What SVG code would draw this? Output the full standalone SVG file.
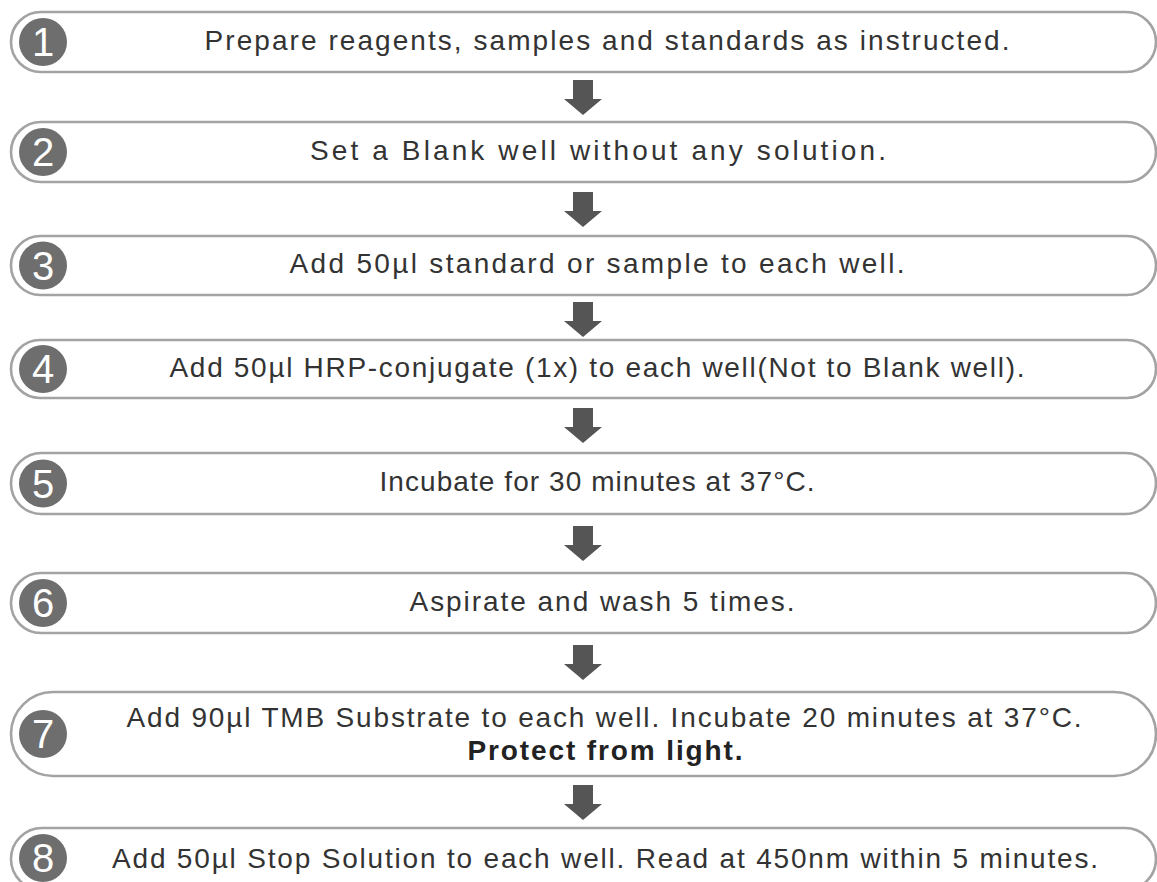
<svg xmlns="http://www.w3.org/2000/svg" width="1157" height="882" viewBox="0 0 1157 882">
<defs>
<style>
.box{fill:#ffffff;stroke:#a3a3a3;stroke-width:2.6}
.num{fill:#6e6e6e}
.digit{font-family:"Liberation Sans",Arial,sans-serif;font-size:40px;fill:#ffffff;text-anchor:middle}
.t{font-family:"Liberation Sans",Arial,sans-serif;font-size:28px;fill:#333333;text-anchor:middle}
.b{font-weight:bold;fill:#222222}
.arrow{fill:#555555}
</style>
<path id="arr" d="M-10,0 H10 V19 H19 L0,35 L-19,19 H-10 Z"/>
</defs>
<rect width="1157" height="882" fill="#ffffff"/>
<g id="connectors">
<use href="#arr" class="arrow" x="583" y="80"/>
<use href="#arr" class="arrow" x="583" y="192"/>
<use href="#arr" class="arrow" x="583" y="302"/>
<use href="#arr" class="arrow" x="583" y="408"/>
<use href="#arr" class="arrow" x="583" y="526"/>
<use href="#arr" class="arrow" x="583" y="645"/>
<use href="#arr" class="arrow" x="583" y="785"/>
</g>
<g id="step1">
<rect class="box" x="11" y="12" width="1145" height="60" rx="30"/>
<circle class="num" cx="43" cy="42" r="24"/>
<text class="digit" x="43" y="56">1</text>
<text class="t" x="607" y="50" textLength="805" lengthAdjust="spacing">Prepare reagents, samples and standards as instructed.</text>
</g>
<g id="step2">
<rect class="box" x="11" y="122" width="1145" height="60" rx="30"/>
<circle class="num" cx="43" cy="152" r="24"/>
<text class="digit" x="43" y="166">2</text>
<text class="t" x="598" y="160" textLength="576" lengthAdjust="spacing">Set a Blank well without any solution.</text>
</g>
<g id="step3">
<rect class="box" x="11" y="236" width="1145" height="59" rx="29.5"/>
<circle class="num" cx="43" cy="265.5" r="24"/>
<text class="digit" x="43" y="279.5">3</text>
<text class="t" x="597" y="273" textLength="615" lengthAdjust="spacing">Add 50µl standard or sample to each well.</text>
</g>
<g id="step4">
<rect class="box" x="11" y="340" width="1145" height="58" rx="29"/>
<circle class="num" cx="43" cy="369" r="24"/>
<text class="digit" x="43" y="383">4</text>
<text class="t" x="597" y="377" textLength="855" lengthAdjust="spacing">Add 50µl HRP-conjugate (1x) to each well(Not to Blank well).</text>
</g>
<g id="step5">
<rect class="box" x="11" y="453" width="1145" height="61" rx="30.5"/>
<circle class="num" cx="43" cy="483.5" r="24"/>
<text class="digit" x="43" y="497.5">5</text>
<text class="t" x="597" y="491" textLength="435" lengthAdjust="spacing">Incubate for 30 minutes at 37°C.</text>
</g>
<g id="step6">
<rect class="box" x="11" y="573" width="1145" height="60" rx="30"/>
<circle class="num" cx="43" cy="603" r="24"/>
<text class="digit" x="43" y="617">6</text>
<text class="t" x="602" y="611" textLength="385" lengthAdjust="spacing">Aspirate and wash 5 times.</text>
</g>
<g id="step7">
<rect class="box" x="11" y="692" width="1145" height="84" rx="42"/>
<circle class="num" cx="43" cy="734" r="24"/>
<text class="digit" x="43" y="748">7</text>
<text class="t" x="604" y="727" textLength="955" lengthAdjust="spacing">Add 90µl TMB Substrate to each well. Incubate 20 minutes at 37°C.</text>
<text class="t b" x="605" y="760" textLength="275" lengthAdjust="spacing">Protect from light.</text>
</g>
<g id="step8">
<rect class="box" x="11" y="828" width="1145" height="62" rx="31"/>
<circle class="num" cx="43" cy="858" r="24"/>
<text class="digit" x="43" y="872">8</text>
<text class="t" x="605" y="868" textLength="986" lengthAdjust="spacing">Add 50µl Stop Solution to each well. Read at 450nm within 5 minutes.</text>
</g>
</svg>
